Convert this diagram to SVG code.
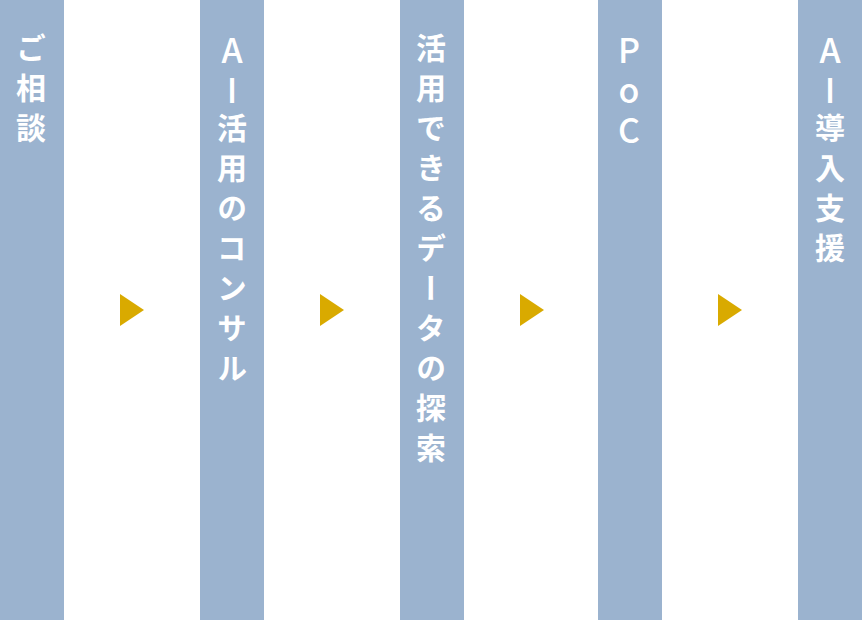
<svg xmlns="http://www.w3.org/2000/svg" width="862" height="620" viewBox="0 0 862 620">
<style>
.col{fill:#9bb3cf}
.arr{fill:#d9aa00}
.lbl{fill:#ffffff;font-family:"Noto Sans CJK JP","Noto Sans",sans-serif;font-weight:bold;font-size:30px;writing-mode:vertical-rl;text-orientation:upright;letter-spacing:10px}
.lat{font-weight:500;font-size:34px;letter-spacing:6px}
</style>
<rect width="862" height="620" fill="#ffffff"/>
<g id="step1"><rect class="col" x="0" y="0" width="64" height="620"/><text class="lbl" x="31" y="33">ご相談</text></g>
<g id="step2"><rect class="col" x="200" y="0" width="64" height="620"/><text class="lbl" x="232" y="33"><tspan class="lat">AI</tspan>活用のコンサル</text></g>
<g id="step3"><rect class="col" x="400" y="0" width="64" height="620"/><text class="lbl" x="431" y="33">活用できるデータの探索</text></g>
<g id="step4"><rect class="col" x="598" y="0" width="64" height="620"/><text class="lbl" x="629" y="33"><tspan class="lat">PoC</tspan></text></g>
<g id="step5"><rect class="col" x="798" y="0" width="64" height="620"/><text class="lbl" x="830" y="33"><tspan class="lat">AI</tspan>導入支援</text></g>
<g id="connectors">
<polygon class="arr" points="120,294 144,310 120,326"/>
<polygon class="arr" points="320,294 344,310 320,326"/>
<polygon class="arr" points="520,294 544,310 520,326"/>
<polygon class="arr" points="718,294 742,310 718,326"/>
</g>
</svg>
